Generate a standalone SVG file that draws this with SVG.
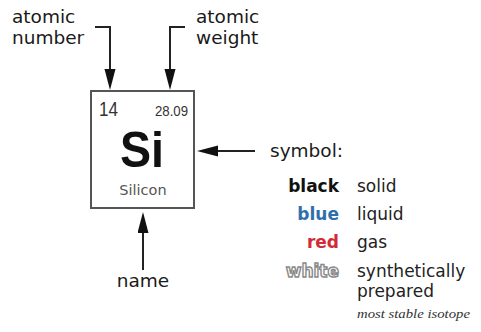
<svg xmlns="http://www.w3.org/2000/svg" width="481" height="332" viewBox="0 0 481 332">
<style>
.lbl{font-family:"DejaVu Sans",Verdana,sans-serif;font-size:18.5px;fill:#1a1a1a}
.leg{font-family:"DejaVu Sans",Verdana,sans-serif;font-size:17px;fill:#222}
.key{font-family:"DejaVu Sans",Verdana,sans-serif;font-size:17px;font-weight:bold;text-anchor:end}
.conn{fill:none;stroke:#222;stroke-width:2}
</style>
<defs>
<marker id="ah" markerUnits="userSpaceOnUse" markerWidth="22" markerHeight="12" refX="11" refY="5.5" orient="auto">
<path d="M0,0 L21,5.5 L0,11 z" fill="#111"/>
</marker>
</defs>
<rect width="481" height="332" fill="#fff"/>
<g id="element">
<rect x="91" y="91" width="103" height="117" fill="#fff" stroke="#555" stroke-width="2"/>
<text x="99" y="116" font-family="Liberation Sans,Arial,sans-serif" font-size="20" fill="#333" textLength="19" lengthAdjust="spacingAndGlyphs">14</text>
<text x="155" y="116" font-family="Liberation Sans,Arial,sans-serif" font-size="15" fill="#333" textLength="33" lengthAdjust="spacingAndGlyphs">28.09</text>
<text x="142" y="167" font-family="Liberation Sans,Arial,sans-serif" font-size="50" font-weight="bold" fill="#111" text-anchor="middle" textLength="44" lengthAdjust="spacingAndGlyphs">Si</text>
<text x="143" y="195" font-family="DejaVu Sans,Verdana,sans-serif" font-size="14.5" fill="#555" text-anchor="middle">Silicon</text>
</g>
<g id="label-atomic-number">
<text class="lbl" x="12" y="23">atomic</text>
<text class="lbl" x="12" y="44">number</text>
</g>
<g id="label-atomic-weight">
<text class="lbl" x="196" y="23">atomic</text>
<text class="lbl" x="196" y="44">weight</text>
</g>
<g id="label-symbol">
<text class="lbl" x="270" y="157">symbol:</text>
</g>
<g id="label-name">
<text class="lbl" x="143" y="287" text-anchor="middle">name</text>
</g>
<g id="legend">
<text class="key" x="339" y="192" fill="#111">black</text>
<text class="leg" x="357" y="192">solid</text>
<text class="key" x="339" y="220" fill="#2f6fae">blue</text>
<text class="leg" x="357" y="220">liquid</text>
<text class="key" x="339" y="248" fill="#d42a36">red</text>
<text class="leg" x="357" y="248">gas</text>
<text class="key" x="339" y="277" fill="#fff" stroke="#8a8a8a" stroke-width="1.4">white</text>
<text class="leg" x="357" y="277">synthetically</text>
<text class="leg" x="357" y="297">prepared</text>
<text x="357" y="318" font-family="Liberation Serif,Times New Roman,serif" font-style="italic" font-size="13" fill="#333" textLength="113" lengthAdjust="spacingAndGlyphs">most stable isotope</text>
</g>
<g id="connectors">
<path class="conn" d="M95,27 H110 V80" marker-end="url(#ah)"/>
<path class="conn" d="M185,27 H170 V80" marker-end="url(#ah)"/>
<path class="conn" d="M255,151 H207" marker-end="url(#ah)"/>
<path class="conn" d="M143,270 V222" marker-end="url(#ah)"/>
</g>
</svg>
